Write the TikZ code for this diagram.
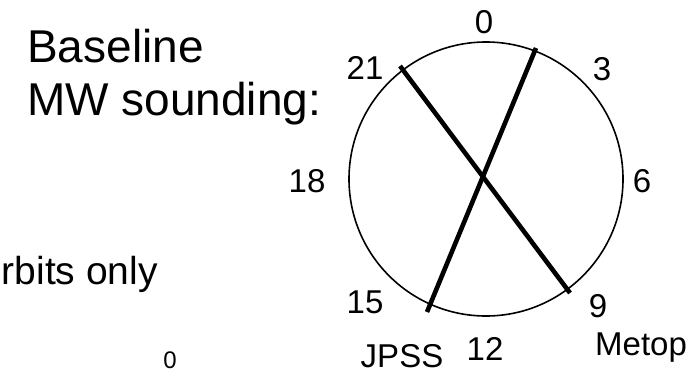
\documentclass[tikz,border=0pt]{standalone}
\usepackage{fontspec}
\setmainfont{Liberation Sans}
\usepackage{tikz}
\usetikzlibrary{positioning,calc}

\begin{document}
\begin{tikzpicture}[x=1pt,y=-1pt,
  hour/.style={font=\fontsize{33}{39}\selectfont,inner sep=0pt,anchor=base},
  title/.style={font=\fontsize{46}{54}\selectfont,inner sep=0pt,anchor=base west},
  orbit/.style={draw,circle,line width=1.6pt,minimum size=274pt,inner sep=0pt},
  pass/.style={line width=4.6pt}]
  \useasboundingbox (0,0) rectangle (692,375);
  % heading on the left
  \node[title] (head1) at (27,62) {Baseline};
  \node[title] (head2) at (27,115) {MW sounding:};
  \node[inner sep=0pt,anchor=base east,font=\fontsize{39}{46}\selectfont] (only) at (158,284) {rbits only};
  \node[inner sep=0pt,anchor=base,font=\fontsize{24}{28}\selectfont] (zero) at (170,368) {0};
  % local time dial
  \node[orbit] (dial) at (486,179) {};
  \node[hour] (h0) at (484,33) {0};
  \node[hour] (h3) at (602,80) {3};
  \node[hour] (h6) at (642,192) {6};
  \node[hour] (h9) at (598,317) {9};
  \node[hour] (h12) at (485,360) {12};
  \node[hour] (h15) at (365,313) {15};
  \node[hour] (h18) at (307,192) {18};
  \node[hour] (h21) at (365,79) {21};
  % satellite names
  \node[hour] (jpss) at (402,367) {JPSS};
  \node[hour,anchor=base west] (metop) at (595,355) {Metop};
  % orbit planes
  \coordinate (m-a) at (400,66);
  \coordinate (m-b) at (570,293);
  \coordinate (j-a) at (536,48);
  \coordinate (j-b) at (427,312);
  \draw[pass] (m-a) -- (m-b);
  \draw[pass] (j-a) -- (j-b);
\end{tikzpicture}
\end{document}
